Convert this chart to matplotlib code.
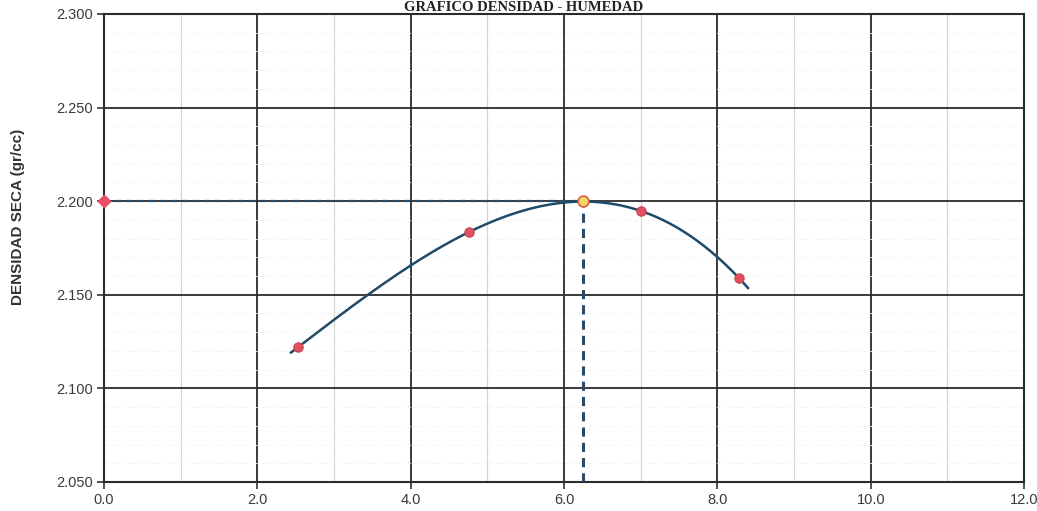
import numpy as np
import matplotlib
matplotlib.use('Agg')
import matplotlib.pyplot as plt
from matplotlib.ticker import MultipleLocator, FormatStrFormatter

#ensayo proctor : humedad (%) y densidad seca (gr/cc)
humedad = [2.53, 4.76, 7.00, 8.28]
densidad = [2.122, 2.1835, 2.1948, 2.159]
#optimo contenido de humedad y maxima densidad seca
och = 6.25
mds = 2.200
#tramo de la curva de ajuste
curva_ini = 2.44
curva_fin = 8.40

titulo = 'GRAFICO DENSIDAD - HUMEDAD'
ylabel = 'DENSIDAD SECA (gr/cc)'

fig = plt.figure(figsize=(10.37, 5.11), dpi=100)
ax = fig.add_axes([0.1003, 0.0568, 0.8872, 0.9159])

#ajuste polinomico de grado 3
coef = np.polyfit(humedad, densidad, 3)
xc = np.linspace(curva_ini, curva_fin, 200)
yc = np.polyval(coef, xc)

ax.set_xlim(0, 12)
ax.set_ylim(2.050, 2.300)
ax.xaxis.set_major_locator(MultipleLocator(2))
ax.xaxis.set_minor_locator(MultipleLocator(1))
ax.yaxis.set_major_locator(MultipleLocator(0.05))
ax.yaxis.set_minor_locator(MultipleLocator(0.01))
ax.xaxis.set_major_formatter(FormatStrFormatter('%.1f'))
ax.yaxis.set_major_formatter(FormatStrFormatter('%.3f'))

ax.grid(which='major', color='#2b2b2b', lw=1.3)
ax.grid(which='minor', axis='x', color='#d4d4d4', lw=0.9)
ax.grid(which='minor', axis='y', color='#f2f2f2', lw=0.6, ls=(0, (4, 3)))
ax.set_axisbelow(True)
for s in ax.spines.values():
    s.set_color('#2b2b2b')
    s.set_linewidth(1.5)

ax.tick_params(which='major', direction='out', length=5, width=1.2, color='#333333',
               labelsize=10.5, labelcolor='#3a3a3a', pad=3)
ax.tick_params(which='minor', length=0)
for lab in ax.get_xticklabels() + ax.get_yticklabels():
    lab.set_fontfamily('Liberation Sans')

#lineas de lectura del optimo
ax.plot([0, och], [mds, mds], color='#2a4a66', lw=1.6, ls=(0, (3, 2)), zorder=3)
ax.plot([och, och], [2.050, mds], color='#2a4a66', lw=2.2, ls=(0, (3, 2)), zorder=3)

ax.plot(xc, yc, color='#1f4a6a', lw=1.8, zorder=4)
ax.scatter(humedad, densidad, s=45, color='#e0505e', edgecolor='#c8404e', lw=0.8, zorder=5)
ax.scatter([och], [mds], s=60, color='#f6d66a', edgecolor='#d8603a', lw=1.2, zorder=6)
ax.scatter([0], [mds], s=40, marker='D', color='#e8506a', zorder=6, clip_on=False)

fig.text(18 / 1037, 1 - 217 / 511, ylabel, rotation=90, ha='center', va='center',
         fontfamily='Liberation Sans', fontweight='bold', fontsize=11, color='#333333')
fig.text(0.505, 0.999, titulo, ha='center', va='top', fontfamily='Liberation Serif',
         fontweight='bold', fontsize=10.5, color='#222222')

fig.savefig('out.png', dpi=100)
